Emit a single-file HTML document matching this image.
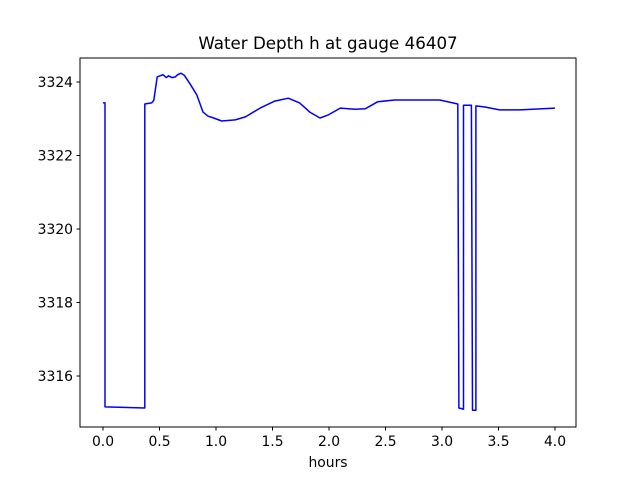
<!DOCTYPE html>
<html><head><meta charset="utf-8"><style>
body{margin:0;background:#fff;}
svg text{font-family:"DejaVu Sans","Liberation Sans",sans-serif;}
</style></head><body>
<svg width="640" height="480" xmlns="http://www.w3.org/2000/svg">
<rect width="640" height="480" fill="#fff"/>
<g id="g"></g>
</svg>
<script>
const times=[0,0.018,0.018,0.37,0.37,0.43,0.45,0.48,0.5,0.53,0.56,0.58,0.61,0.64,0.66,0.69,0.72,0.77,0.83,0.885,0.93,0.98,1.05,1.17,1.26,1.39,1.52,1.64,1.74,1.83,1.92,1.99,2.1,2.23,2.32,2.43,2.58,2.76,2.88,2.98,3.14,3.15,3.19,3.19,3.26,3.27,3.3,3.3,3.38,3.51,3.69,4.0];
const depth=[3323.43,3323.43,3315.16,3315.13,3323.4,3323.43,3323.5,3324.14,3324.16,3324.2,3324.12,3324.17,3324.12,3324.14,3324.2,3324.24,3324.18,3323.95,3323.65,3323.18,3323.07,3323.02,3322.94,3322.97,3323.05,3323.29,3323.48,3323.56,3323.43,3323.18,3323.02,3323.1,3323.29,3323.26,3323.27,3323.46,3323.51,3323.51,3323.51,3323.51,3323.4,3315.13,3315.1,3323.37,3323.37,3315.07,3315.07,3323.35,3323.32,3323.24,3323.24,3323.29];
const xTicks=[0,0.5,1,1.5,2,2.5,3,3.5,4];
const yTicks=[3316,3318,3320,3322,3324];
const L=80,R=576,T=58,B=427;
const sx=t=>103+(t-0)*113;
const sy=v=>82+(3324-v)*36.75;
const g=document.getElementById('g');
const NS='http://www.w3.org/2000/svg';
function mk(tag,attrs,txt){const e=document.createElementNS(NS,tag);for(const k in attrs)e.setAttribute(k,attrs[k]);if(txt!==undefined)e.textContent=txt;g.appendChild(e);return e;}
let d=times.map((t,i)=>(i?'L':'M')+sx(t).toFixed(1)+','+sy(depth[i]).toFixed(1)).join(' ');
const line=mk('path',{d:d,fill:'none',stroke:'#0000ff','stroke-width':1.5,'stroke-linejoin':'round'});


const frame=mk('rect',{x:L,y:T,width:R-L,height:B-T,fill:'none',stroke:'#000','stroke-width':1});


xTicks.forEach(t=>{const x=sx(t);
 const tk=mk('line',{x1:x,x2:x,y1:B,y2:B+3.5,stroke:'#000'});
 
 
 const lb=mk('text',{x:x,y:B+19,'font-size':13.9,'text-anchor':'middle'},t.toFixed(1));
 
 });
yTicks.forEach(v=>{const y=sy(v);
 const tk=mk('line',{x1:L-3.5,x2:L,y1:y,y2:y,stroke:'#000'});
 
 
 const lb=mk('text',{x:L-7,y:y+5,'font-size':13.9,'text-anchor':'end'},String(v));
 
 });
const ti=mk('text',{x:328,y:49,'font-size':16.7,'text-anchor':'middle'},'Water Depth h at gauge 46407');


const xl=mk('text',{x:328,y:467,'font-size':13.9,'text-anchor':'middle'},'hours');


</script>
</body></html>
